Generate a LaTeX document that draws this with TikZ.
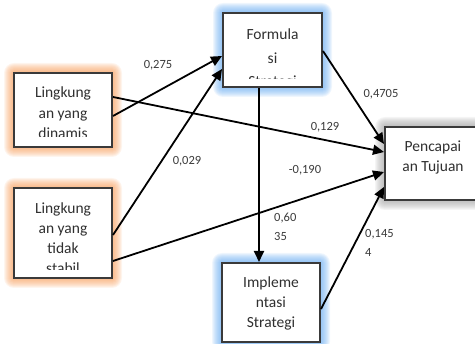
\documentclass[tikz,border=0pt]{standalone}
\usepackage{fontspec}
\setmainfont{Carlito}
\usetikzlibrary{arrows.meta,calc}
\definecolor{boxline}{HTML}{3A3A3A}
\definecolor{txt}{HTML}{303030}
\definecolor{lbltxt}{HTML}{3A3A3A}
\definecolor{orangeglow}{HTML}{F79A55}
\definecolor{blueglow}{HTML}{62A8F0}
\definecolor{greyglow}{HTML}{A0A0A0}
\newcommand\myglow[5]{%
  \foreach \k in {1,...,10} {\fill[#1, opacity=0.1, rounded corners=\k pt] (#2-\k,#3-\k) rectangle (#4+\k,#5+\k);}}
\tikzset{
  boxnode/.style={draw=boxline, line width=2pt, fill=white, inner sep=0pt},
  boxtext/.style={anchor=base, inner sep=0pt, text=txt, font=\fontsize{15.5}{20}\selectfont},
  arr/.style={line width=1.8pt, -{Triangle[length=11pt,width=10pt]}},
  lbl/.style={text=lbltxt, inner sep=0pt, font=\fontsize{12.5}{19}\selectfont},
}
\begin{document}
\begin{tikzpicture}[x=1pt,y=-1pt]
\useasboundingbox (0,0) rectangle (475,344);
\clip (0,0) rectangle (475,344);
% glows
\myglow{orangeglow}{14}{73}{112}{147}
\myglow{orangeglow}{14}{188}{112}{278}
\myglow{blueglow}{223}{13}{322}{87}
\myglow{blueglow}{222}{263}{320}{342}
\myglow{greyglow}{385}{127}{480}{200}
% boxes
\node[boxnode, minimum width=98pt, minimum height=74pt] (dyn) at (63,110) {};
\node[boxnode, minimum width=98pt, minimum height=90pt] (sta) at (63,233) {};
\node[boxnode, minimum width=99pt, minimum height=74pt] (for) at (272.5,50) {};
\node[boxnode, minimum width=98pt, minimum height=79pt] (imp) at (271,302.5) {};
\node[boxnode, minimum width=95pt, minimum height=73pt] (pen) at (432.5,163.5) {};
% box texts
\begin{scope}
\clip (15,74) rectangle (111,137);
\foreach \t [count=\i] in {Lingkung,an yang,dinamis}
  \node[boxtext] (dyn-\i) at (63,{98+20.5*(\i-1)}) {\t};
\end{scope}
\begin{scope}
\clip (15,189) rectangle (111,269.5);
\foreach \t [count=\i] in {Lingkung,an yang,tidak,stabil}
  \node[boxtext] (sta-\i) at (63,{214+20*(\i-1)}) {\t};
\end{scope}
\begin{scope}
\clip (224,14) rectangle (321,79);
\foreach \t [count=\i] in {Formula,si,Strategi}
  \node[boxtext] (for-\i) at (272.5,{40+23.5*(\i-1)}) {\t};
\end{scope}
\foreach \t [count=\i] in {Impleme,ntasi,Strategi}
  \node[boxtext] (imp-\i) at (271,{288+20*(\i-1)}) {\t};
\foreach \t [count=\i] in {Pencapai,an Tujuan}
  \node[boxtext] (pen-\i) at (433,{152+20*(\i-1)}) {\t};
% connectors
\draw[arr] ($(dyn.north east)+(0,25)$) -- ($(pen.north west)+(0,26)$);
\draw[arr] ($(dyn.north east)+(0,44)$) -- ($(for.north west)+(0,44)$);
\draw[arr] ($(sta.north east)+(0,48)$) -- ($(for.north west)+(0,57)$);
\draw[arr] ($(sta.north east)+(0,74)$) -- ($(pen.north west)+(0,46)$);
\draw[arr] ($(for.north east)+(0,39)$) -- ($(pen.north west)+(0,18)$);
\draw[arr] ($(for.south west)+(37,0)$) -- ($(imp.north west)+(38,0)$);
\draw[arr] ($(imp.north east)+(0,47)$) -- ($(pen.north west)+(0,61)$);
% labels
\node[lbl] (l1) at (158,65) {0,275};
\node[lbl] (l2) at (187,161) {0,029};
\node[lbl] (l3) at (381,94) {0,4705};
\node[lbl] (l4) at (325,127) {0,129};
\node[lbl] (l5) at (305,170) {-0,190};
\node[lbl, align=left, anchor=west] (l6) at (274,226.5) {0,60\\35};
\node[lbl, align=left, anchor=west] (l7) at (365,242.5) {0,145\\4};
\end{tikzpicture}
\end{document}
